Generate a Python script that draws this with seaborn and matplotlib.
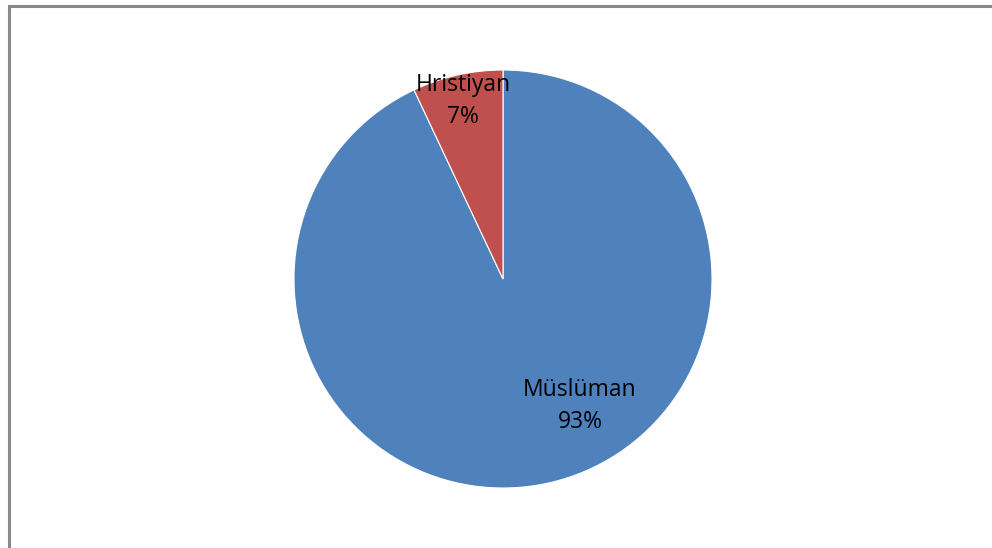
import matplotlib
matplotlib.use("Agg")
import matplotlib.pyplot as plt
import seaborn as sns
from matplotlib.patches import Rectangle

categories = ["Müslüman", "Hristiyan"]
values = [93, 7]
colors = ["#4F81BD", "#C0504D"]

sns.set_theme(style="white")
plt.rcParams['font.family'] = ['Open Sans', 'DejaVu Sans']

W, H = 992, 548
fig = plt.figure(figsize=(W / 100, H / 100), dpi=100)
fig.patch.set_facecolor("white")

# border frame (extends beyond right and bottom edges)
fig.patches.append(Rectangle((8.5 / W, -0.2), 1.5, (H - 5.5) / H + 0.2,
                             transform=fig.transFigure, fill=False,
                             edgecolor="#898989", linewidth=2.2))

cx, cy, r = 503, 279, 209
ax = fig.add_axes([(cx - r) / W, (H - cy - r) / H, 2 * r / W, 2 * r / H])
wedges, _ = ax.pie(values, colors=colors, startangle=90, counterclock=False,
                   wedgeprops=dict(edgecolor="white", linewidth=0.8))
ax.set_xlim(-1, 1)
ax.set_ylim(-1, 1)
ax.set_aspect("equal")
ax.axis("off")

label_pos = {"Hristiyan": (463, 101), "Müslüman": (580, 406)}
for cat, v in zip(categories, values):
    px, py = label_pos[cat]
    fig.text(px / W, 1 - py / H, f"{cat}\n{v}%", ha="center", va="center",
             fontsize=16.5, color="black", linespacing=1.45)

fig.savefig("out.png", dpi=100, facecolor="white")
